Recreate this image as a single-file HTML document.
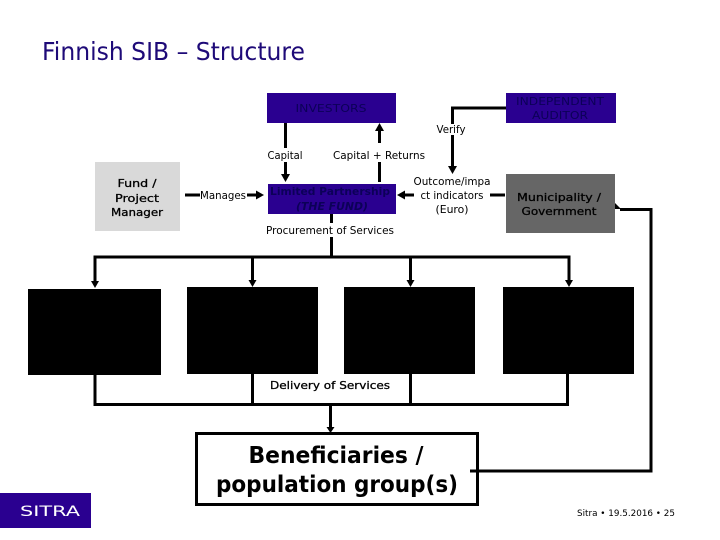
<!DOCTYPE html>
<html><head><meta charset="utf-8"><style>
html,body{margin:0;padding:0;background:#fff;width:720px;height:540px;overflow:hidden}
svg{display:block}
text{font-family:"DejaVu Sans","Liberation Sans",sans-serif;fill:#000;text-anchor:middle}
.s{font-size:11px}
.b{font-size:11px}
.d{fill:#0c0058}
.m{stroke:#000;stroke-width:.3px}
</style></head><body>
<svg width="720" height="540" viewBox="0 0 720 540" xmlns="http://www.w3.org/2000/svg">
<text x="42" y="60" style="text-anchor:start;font-size:25px;fill:#1e0a78" textLength="263" lengthAdjust="spacingAndGlyphs">Finnish SIB – Structure</text>

<rect x="267" y="93" width="129" height="30" fill="#2a0090"/>
<rect x="506" y="93" width="110" height="30" fill="#2a0090"/>
<rect x="268" y="184" width="128" height="30" fill="#2a0090"/>
<rect x="506" y="174" width="109" height="59" fill="#666666"/>
<rect x="95" y="162" width="85" height="69" fill="#d9d9d9"/>
<rect x="28" y="289" width="133" height="86" fill="#000"/>
<rect x="187" y="287" width="131" height="87" fill="#000"/>
<rect x="344" y="287" width="131" height="87" fill="#000"/>
<rect x="503" y="287" width="131" height="87" fill="#000"/>
<rect x="196.500" y="433.500" width="281" height="71" fill="#fff" stroke="#000" stroke-width="3"/>
<rect x="0" y="493" width="91" height="35" fill="#2a0090"/>

<g fill="none" stroke="#000" stroke-width="3">
<path d="M285.500 123V148M285.500 162V176"/>
<path d="M379.500 182V162M379.500 143V128"/>
<path d="M506 108H452.500V124M452.500 135V168"/>
<path d="M505 195H490M414 195H402"/>
<path d="M185 195H200M247 195H259"/>
<path d="M331.500 214V223M331.500 237V257"/>
<path d="M95 283V257H569V283M252.500 257V283M410.500 257V283"/>
<path d="M95 375V404.500H567.500V374M252.500 374V404.500M410.500 374V404.500"/>
<path d="M330.500 404V428"/>
<path d="M470 471H651V209.500H620"/>
</g>
<g fill="#000">
<path d="M285.500 182l-4.500-8h9z"/>
<path d="M379.500 123l-4.500 8h9z"/>
<path d="M452.500 174l-4.500-8h9z"/>
<path d="M397 195l8-4.500v9z"/>
<path d="M264 195l-8-4.500v9z"/>
<path d="M95 288l-4-7h8z"/>
<path d="M252.500 287l-4-7h8z"/>
<path d="M410.500 287l-4-7h8z"/>
<path d="M569 287l-4-7h8z"/>
<path d="M330.500 433l-4-6h8z"/>
<path d="M615 203l6 6h-6z"/>
</g>

<text class="b d" x="331" y="112" textLength="71" lengthAdjust="spacingAndGlyphs">INVESTORS</text>
<text class="b d" x="560" y="105" textLength="88" lengthAdjust="spacingAndGlyphs">INDEPENDENT</text>
<text class="b d" x="560" y="119" textLength="56" lengthAdjust="spacingAndGlyphs">AUDITOR</text>
<text x="451" y="133" class="s" textLength="29" lengthAdjust="spacingAndGlyphs">Verify</text>
<text x="285" y="159" class="s" textLength="35" lengthAdjust="spacingAndGlyphs">Capital</text>
<text x="379" y="159" class="s" textLength="92" lengthAdjust="spacingAndGlyphs">Capital + Returns</text>
<text x="330" y="195" class="b d" style="font-weight:bold" textLength="120" lengthAdjust="spacingAndGlyphs">Limited Partnership</text>
<text x="332" y="210" class="b d" style="font-weight:bold;font-style:italic" textLength="72" lengthAdjust="spacingAndGlyphs">(THE FUND)</text>
<text x="452" y="185" class="s" textLength="77" lengthAdjust="spacingAndGlyphs">Outcome/impa</text>
<text x="452" y="199" class="s" textLength="63" lengthAdjust="spacingAndGlyphs">ct indicators</text>
<text x="452" y="213" class="s" textLength="33" lengthAdjust="spacingAndGlyphs">(Euro)</text>
<text x="559" y="201" class="b m" textLength="84" lengthAdjust="spacingAndGlyphs">Municipality /</text>
<text x="559" y="215" class="b m" textLength="75" lengthAdjust="spacingAndGlyphs">Government</text>
<text x="137" y="187" class="b m" textLength="39" lengthAdjust="spacingAndGlyphs">Fund /</text>
<text x="137" y="202" class="b m" textLength="44" lengthAdjust="spacingAndGlyphs">Project</text>
<text x="137" y="216" class="b m" textLength="52" lengthAdjust="spacingAndGlyphs">Manager</text>
<text x="223" y="199" class="s" textLength="46" lengthAdjust="spacingAndGlyphs">Manages</text>
<text x="330" y="234" class="s" textLength="128" lengthAdjust="spacingAndGlyphs">Procurement of Services</text>
<rect x="268" y="378" width="124" height="14" fill="#fff"/>
<text x="330" y="389" class="b m" textLength="120" lengthAdjust="spacingAndGlyphs">Delivery of Services</text>
<text x="336" y="463" style="font-size:23px;font-weight:bold" textLength="175" lengthAdjust="spacingAndGlyphs">Beneficiaries /</text>
<text x="337" y="492" style="font-size:23px;font-weight:bold" textLength="242" lengthAdjust="spacingAndGlyphs">population group(s)</text>
<text x="50" y="516" style="font-size:14px;fill:#fff" textLength="60" lengthAdjust="spacingAndGlyphs">SITRA</text>
<text x="626" y="516" style="font-size:8.500px" textLength="98" lengthAdjust="spacingAndGlyphs">Sitra  •  19.5.2016  •  25</text>
</svg>
</body></html>
